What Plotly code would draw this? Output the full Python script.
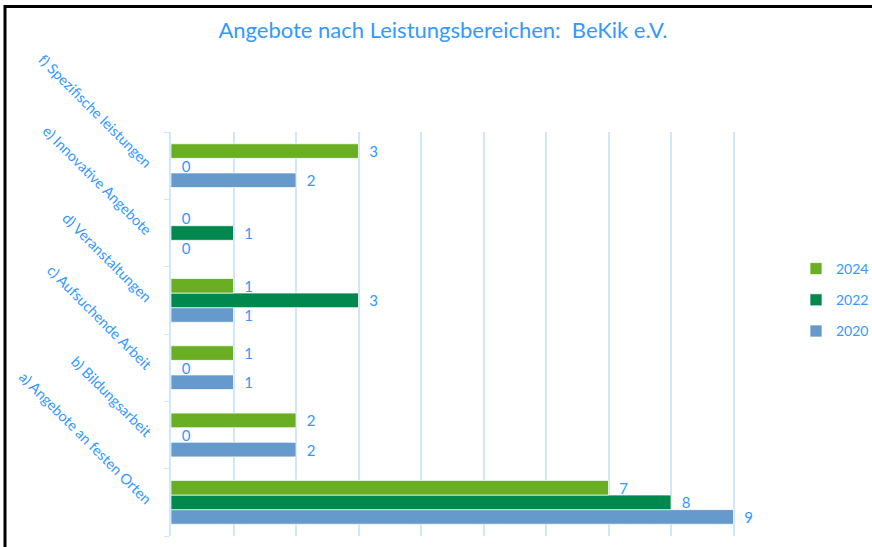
import plotly.graph_objects as go

categories = [
    "a) Angebote an festen Orten",
    "b) Bildungsarbeit",
    "c) Aufsuchende Arbeit",
    "d) Veranstaltungen",
    "e) Innovative Angebote",
    "f) Spezifische leistungen",
]
series_names = ["2020", "2022", "2024"]
values_2020 = [9, 2, 1, 1, 0, 2]
values_2022 = [8, 0, 0, 3, 1, 0]
values_2024 = [7, 2, 1, 1, 0, 3]
x_ticks = [0, 1, 2, 3, 4, 5, 6, 7, 8, 9, 10]

colors = {"2020": "#6699CC", "2022": "#00884F", "2024": "#6AAF23"}
legend_rank = {"2020": 3, "2022": 2, "2024": 1}
text_blue = "#3399FF"
grid_blue = "#CFE6FB"

W, H = 872, 547
L, R, T, B = 171, 76, 132, 11

fig = go.Figure()
for name, vals in zip(series_names, [values_2020, values_2022, values_2024]):
    fig.add_trace(go.Bar(
        y=categories, x=vals, name=name, orientation="h",
        marker=dict(color=colors[name], line=dict(color="rgba(255,255,255,0.7)", width=1)),
        text=vals, texttemplate="  %{x}", textposition="outside",
        constraintext="none",
        textfont=dict(color=text_blue, size=15, family="Lato"),
        cliponaxis=False, legendgroup=name, legendrank=legend_rank[name],
    ))

pw = W - L - R
ph = H - T - B
fig.add_shape(type="rect", xref="paper", yref="paper",
              x0=(5 - L) / pw, x1=(900 - L) / pw,
              y0=(H - B - 600) / ph, y1=(H - B - 6.5) / ph,
              line=dict(color="black", width=3), layer="above")

fig.update_layout(
    width=W, height=H,
    margin=dict(l=L, r=R, t=T, b=B, autoexpand=False),
    paper_bgcolor="white", plot_bgcolor="white",
    barmode="group", bargap=0.35, bargroupgap=0,
    font=dict(family="Lato", color=text_blue, size=14),
    title=dict(text="Angebote nach Leistungsbereichen:  BeKik e.V.",
               x=0.508, xanchor="center", y=1 - 30 / H, yanchor="middle",
               font=dict(size=22, color=text_blue, family="Lato")),
    xaxis=dict(range=[0, 10], tickvals=x_ticks, showticklabels=False,
               showgrid=True, gridcolor=grid_blue, gridwidth=1.5,
               zeroline=False, showline=False, fixedrange=True),
    yaxis=dict(type="category", categoryorder="array", categoryarray=categories,
               tickangle=45, tickson="boundaries", ticks="outside", ticklen=5,
               tickcolor=grid_blue, showline=True, linecolor=grid_blue, linewidth=1.5,
               showgrid=False, tickfont=dict(size=14.5, color=text_blue, family="Lato"),
               ticklabelstandoff=16),
    legend=dict(x=(796 - L) / pw, xanchor="left", y=(H - B - 300) / ph, yanchor="middle",
                traceorder="grouped", tracegroupgap=10,
                font=dict(size=14, color=text_blue, family="Lato"), bgcolor="rgba(0,0,0,0)"),
    showlegend=True,
)

fig.write_html("out.html", config={"displayModeBar": False},
               post_script="document.body.style.margin='0';")
